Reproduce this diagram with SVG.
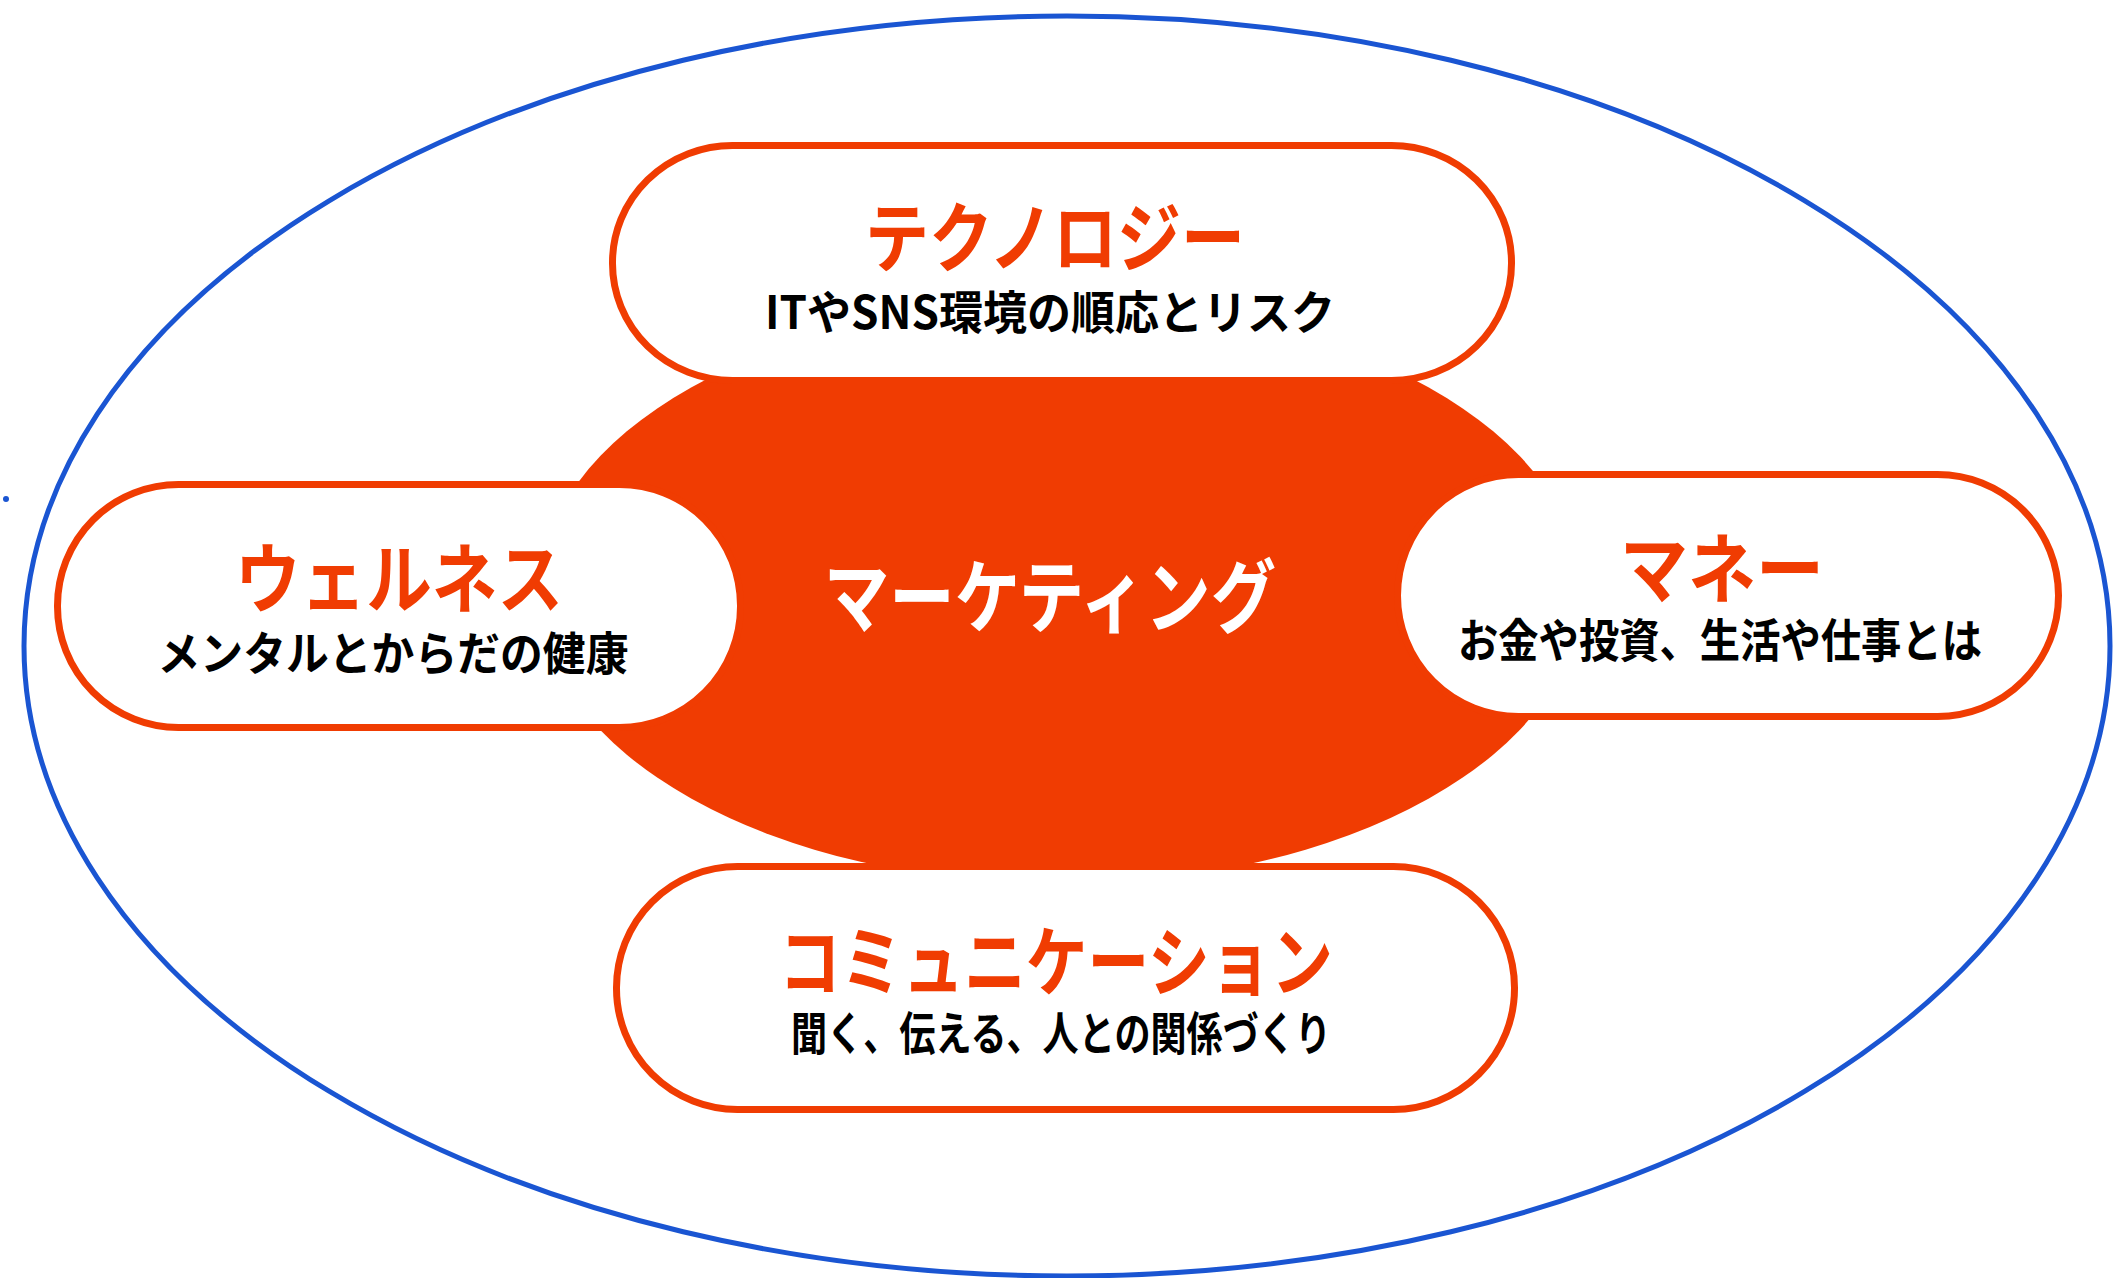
<svg xmlns="http://www.w3.org/2000/svg" width="2128" height="1278" viewBox="0 0 2128 1278">
<style>
.pill{fill:#ffffff;stroke:#F03C02;stroke-width:7}
.t{font-family:"Noto Sans CJK JP","Liberation Sans",sans-serif;font-weight:700;text-anchor:middle}
.title{fill:#F03C02;font-size:76px}
.sub{fill:#000000;font-size:46px}
.center{fill:#ffffff;font-size:80px}
</style>
<rect width="2128" height="1278" fill="#ffffff"/>
<g id="frame">
<ellipse cx="1067" cy="646" rx="1043" ry="630" fill="none" stroke="#1A55D2" stroke-width="5"/>
<circle cx="6" cy="499" r="3" fill="#1A55D2"/>
</g>
<g id="connectors"></g>
<g id="core">
<ellipse cx="1060" cy="593" rx="521" ry="291" fill="#F03C02"/>
<text class="t center" x="1050" y="626" textLength="452" lengthAdjust="spacingAndGlyphs">マーケティング</text>
</g>
<g id="technology">
<rect class="pill" x="612.5" y="145.5" width="899" height="235" rx="120" ry="117"/>
<text class="t title" x="1055" y="266" textLength="380" lengthAdjust="spacingAndGlyphs">テクノロジー</text>
<text class="t sub" x="1050" y="329" textLength="570" lengthAdjust="spacingAndGlyphs">ITやSNS環境の順応とリスク</text>
</g>
<g id="wellness">
<rect class="pill" x="57.5" y="484.5" width="683" height="243" rx="121" ry="121"/>
<text class="t title" x="399" y="607" textLength="328" lengthAdjust="spacingAndGlyphs">ウェルネス</text>
<text class="t sub" x="393" y="670" textLength="471" lengthAdjust="spacingAndGlyphs">メンタルとからだの健康</text>
</g>
<g id="money">
<rect class="pill" x="1397.5" y="474.5" width="661" height="242" rx="121" ry="121"/>
<text class="t title" x="1722" y="597" textLength="204" lengthAdjust="spacingAndGlyphs">マネー</text>
<text class="t sub" x="1720" y="657" textLength="524" lengthAdjust="spacingAndGlyphs">お金や投資、生活や仕事とは</text>
</g>
<g id="communication">
<rect class="pill" x="616.5" y="866.5" width="898" height="243" rx="121" ry="121"/>
<text class="t title" x="1056" y="990" textLength="554" lengthAdjust="spacingAndGlyphs">コミュニケーション</text>
<text class="t sub" x="1061" y="1050" textLength="540" lengthAdjust="spacingAndGlyphs">聞く、伝える、人との関係づくり</text>
</g>
</svg>
